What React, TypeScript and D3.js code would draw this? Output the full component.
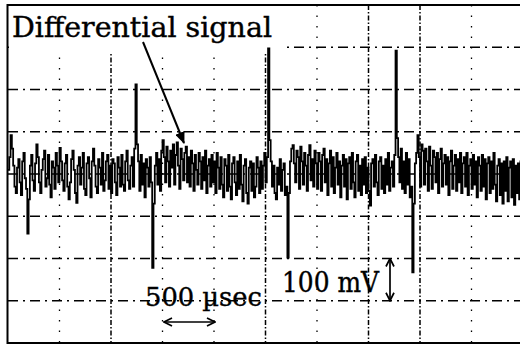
import React from "react";
import * as d3 from "d3";

// time step between samples (µs) and the differential signal in mV
const SAMPLE_STEP_US = 12.5;
const signalMv: number[] = [
  10, 40, 92, 60, 20, -30, -45, 15, 35, -20, -50, 30, 50, -10, -35, -141, -60, 20, 45, -15,
  -40, 25, 70, 40, -20, -45, 10, 35, 55, -30, -10, 45, -25, -55, 30, 15, -35, 50, 20, -20,
  62, 30, -15, -40, 25, 45, -30, -60, -20, 35, 55, 10, -45, -68, 20, 40, -25, 15, 50, -35,
  -50, 25, 40, -10, -55, 30, 60, 20, -30, -45, 35, 15, -25, 50, -40, -15, 30, 45, -35, 20,
  -45, 35, 25, -20, -50, 40, 15, -30, 45, -25, -40, 30, 55, -15, -35, 20, 40, -30, 60, 212,
  70, 30, -40, 45, -25, 25, -55, 35, 15, -30, 40, -20, -222, -70, 20, 50, -25, 35, -40, 55,
  80, 40, -20, 65, 30, -30, 55, 15, 70, -25, 45, 75, 20, -35, 60, 35, -15, 50, 65, -20,
  40, -30, 55, 25, -40, 45, 10, -25, 50, 30, -35, 40, -15, 55, -45, 20, 35, -30, 45, -20,
  30, -45, 50, 15, -35, 40, -25, -55, 35, 20, -40, 45, -30, -60, 25, 40, -20, -50, 30, -35,
  45, -25, -65, 20, 35, -45, -70, 15, 30, -40, 25, -55, -30, 40, 15, -45, 30, -35, 20, 50,
  -20, 40, 297, 80, 30, -30, 20, -45, -60, 15, -25, 35, -40, 10, 25, -50, -30, -198, -45, 30,
  60, 68, 25, -20, 55, 40, -35, 65, 30, -25, 50, 20, -40, 45, 68, -15, 35, -30, 55, 25,
  -35, 50, 30, -40, 45, 60, -20, 35, -50, 25, 55, -30, 40, -45, 15, 50, -25, 30, -55, 20,
  45, -30, 35, -60, 25, 40, -35, 50, -20, -55, 30, 45, -40, 20, -50, 35, -25, 40, -45, 15,
  -40, -75, 25, 35, -30, 45, -20, -50, 30, 40, -35, 20, -45, 35, -25, 50, -40, 15, 30, -30,
  45, 292, 85, 40, -20, 60, -35, 30, -45, 50, -25, 35, -55, -30, -233, -70, 25, 50, 92, 40,
  -30, 70, 55, -25, 60, 30, -40, 65, 20, -35, 55, 40, -20, 50, -45, 35, 60, -30, 25, 45,
  -25, 40, -50, 30, 55, -35, 20, 45, -40, 35, -20, 50, -45, 25, 40, -30, 50, -50, 20, 35,
  -35, 45, -25, 30, -55, 40, 20, -40, 45, -30, 35, -60, 25, 40, -45, 30, -35, 50, -25, -65,
  20, 35, -50, 25, -70, 30, -40, 40, -65, 15, 30, -55, 35, -73, 20, -45, 25, -60, 30, -40,
];

const timeTicksUs = d3.range(0, 5001, 500);
const voltTicksMv = d3.range(-400, 401, 100);
const heavyTimeTicks = [1000, 2500, 3500, 4000];

const titleLabel = "Differential signal";
const timeLabel = "500 µsec";
const voltLabel = "100 mV";

export default function App() {
  const x = d3.scaleLinear().domain([0, 5000]).range([8, 523]);
  const y = d3.scaleLinear().domain([-400, 400]).range([343, 5]);

  const pts: [number, number][] = signalMv.map((v, i) => [i * SAMPLE_STEP_US, v]);
  const line = d3
    .line<[number, number]>()
    .x((d) => x(d[0]))
    .y((d) => y(d[1]))
    .curve(d3.curveStepAfter);

  const serif = "'DejaVu Serif', 'Liberation Serif', serif";

  return (
    <svg
      width={520}
      height={344}
      style={{ position: "absolute", left: 0, top: 0, background: "#fff" }}
    >
      <defs>
        <marker id="ah" viewBox="0 0 12 10" refX="11" refY="5" markerWidth="12" markerHeight="10" markerUnits="userSpaceOnUse" orient="auto">
          <path d="M0,0 L12,5 L0,10 Z" fill="#000" />
        </marker>
        <marker id="chev" viewBox="0 0 10 10" refX="9" refY="5" markerWidth="10" markerHeight="10" markerUnits="userSpaceOnUse" orient="auto-start-reverse">
          <path d="M1,1 L9,5 L1,9" fill="none" stroke="#000" strokeWidth={1.7} />
        </marker>
      </defs>
      <rect x={0} y={0} width={520} height={344} fill="#fff" />
      {/* horizontal grid */}
      {voltTicksMv.slice(1, -1).map((v) => (
        <line
          key={"h" + v}
          x1={8}
          x2={523}
          y1={y(v)}
          y2={y(v)}
          stroke="#000"
          strokeWidth={1.4}
          strokeDasharray="10,5,2,5"
        />
      ))}
      {/* vertical grid */}
      {timeTicksUs.slice(1, -1).map((t) => {
        const heavy = heavyTimeTicks.includes(t);
        return (
          <line
            key={"v" + t}
            x1={x(t)}
            x2={x(t)}
            y1={5}
            y2={343}
            stroke="#000"
            strokeWidth={heavy ? 1.5 : 1.3}
            strokeDasharray={heavy ? "5,2,1.5,2" : "1.5,9"}
          />
        );
      })}
      {/* label area */}
      <rect x={9} y={6} width={277} height={46} fill="#fff" />
      {/* signal */}
      <path d={line(pts) || ""} fill="none" stroke="#000" strokeWidth={1.8} />
      {/* frame */}
      <line x1={7.5} x2={7.5} y1={4} y2={344} stroke="#000" strokeWidth={2} />
      <line x1={7} x2={520} y1={5} y2={5} stroke="#000" strokeWidth={2} />
      <line x1={7} x2={520} y1={343} y2={343} stroke="#000" strokeWidth={2} />
      {/* title */}
      <text x={12} y={37} fontFamily={serif} fontSize={27} textLength={260} lengthAdjust="spacingAndGlyphs" fill="#000" stroke="#000" strokeWidth={0.4}>
        {titleLabel}
      </text>
      <line x1={143} y1={42} x2={184} y2={143} stroke="#000" strokeWidth={2} markerEnd="url(#ah)" />
      {/* time scale */}
      <text x={145} y={306} fontFamily={serif} fontSize={26} textLength={117} lengthAdjust="spacingAndGlyphs" fill="#000" stroke="#000" strokeWidth={0.4}>
        {timeLabel}
      </text>
      <line x1={164} y1={322} x2={215} y2={322} stroke="#000" strokeWidth={1.7} markerStart="url(#chev)" markerEnd="url(#chev)" />
      {/* voltage scale */}
      <text x={282} y={292} fontFamily={serif} fontSize={27} textLength={97} lengthAdjust="spacingAndGlyphs" fill="#000" stroke="#000" strokeWidth={0.4}>
        {voltLabel}
      </text>
      <line x1={390} y1={y(-200)} x2={390} y2={y(-300)} stroke="#000" strokeWidth={1.7} markerStart="url(#chev)" markerEnd="url(#chev)" />
    </svg>
  );
}
